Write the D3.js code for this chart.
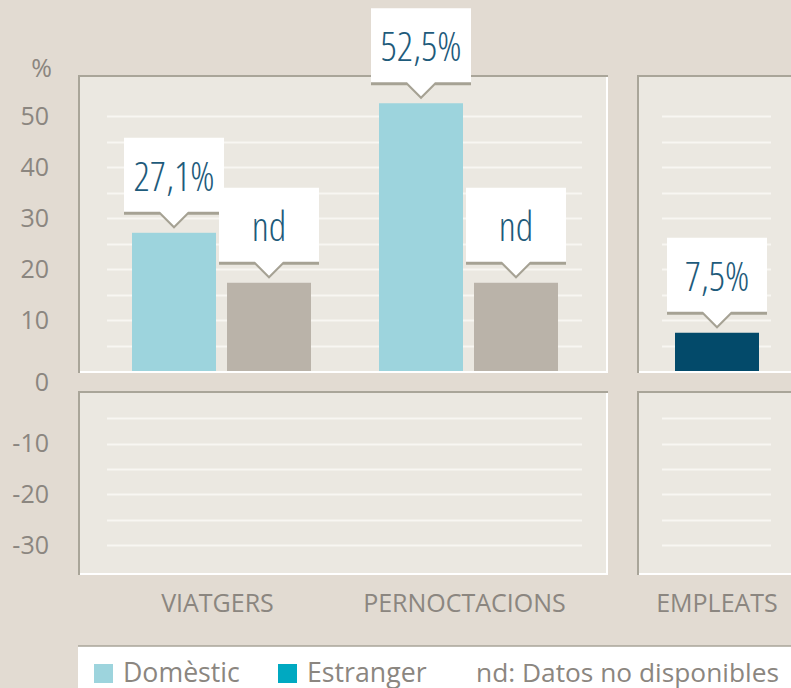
<!DOCTYPE html>
<html>
<head>
<meta charset="utf-8">
<script src="https://cdn.jsdelivr.net/npm/d3@7/dist/d3.min.js"></script>
<style>
  html, body { margin: 0; padding: 0; background: #e2dbd2; }
  svg { display: block; }
  text { font-family: "Open Sans", "Noto Sans", sans-serif; }
</style>
</head>
<body>
<svg id="chart" width="791" height="688"></svg>
<script>
// ---- data ----
const categories = ["VIATGERS", "PERNOCTACIONS"];
const seriesNames = ["Domèstic", "Estranger"];
const domesticValues = [27.1, 52.5];
const estrangerValues = [null, null];      // nd: no data
const ndPlaceholder = 17.3;                 // height of the grey "nd" bar
const empleatsCategory = ["EMPLEATS"];
const empleatsValues = [7.5];
const upperTicks = [50, 40, 30, 20, 10];
const lowerTicks = [-10, -20, -30];
const upperGrid = [5, 10, 15, 20, 25, 30, 35, 40, 45, 50];
const lowerGrid = [-5, -10, -15, -20, -25, -30];
const legendItems = ["Domèstic", "Estranger"];
const legendNote = "nd: Datos no disponibles";

// ---- styles ----
const C = {
  bg: "#e2dbd2", panel: "#ebe8e1", border: "#a9a599", grid: "#f8f6f2",
  domestic: "#9dd4dd", estranger: "#00a9c1", nd: "#bab3a9", empleats: "#034a6a",
  axisText: "#8b8680", callText: "#1e5b7b", shadow: "#a6a294"
};

const svg = d3.select("#chart");
const locale = d3.formatLocale({ decimal: ",", thousands: ".", grouping: [3], currency: ["", "€"], minus: "-" });
const fmt = v => locale.format(".1f")(v) + "%";
const tickFmt = locale.format("d");

// scales
const yU = d3.scaleLinear().domain([0, 50]).range([371, 116]);
const yL = d3.scaleLinear().domain([0, -30]).range([393, 545]);
const x1 = d3.scaleBand().domain(categories).range([98, 592]);
const x2 = d3.scaleBand().domain(empleatsCategory).range([662, 772]);
const xs = d3.scaleBand().domain(seriesNames).range([-89.5, 89.5]).paddingInner(11 / 95);

// panels
const panels = [
  { x0: 78, x1: 608, y0: 75, y1: 373, g0: 107, g1: 582, grid: upperGrid, y: yU },
  { x0: 637, x1: 800, y0: 75, y1: 373, g0: 662, g1: 771, grid: upperGrid, y: yU },
  { x0: 78, x1: 608, y0: 391, y1: 575, g0: 107, g1: 582, grid: lowerGrid, y: yL },
  { x0: 637, x1: 800, y0: 391, y1: 575, g0: 662, g1: 771, grid: lowerGrid, y: yL }
];
panels.forEach(p => {
  const g = svg.append("g");
  g.append("rect").attr("x", p.x0).attr("y", p.y0).attr("width", p.x1 - p.x0).attr("height", p.y1 - p.y0).attr("fill", C.panel);
  g.append("line").attr("x1", p.x0).attr("x2", p.x1).attr("y1", p.y0 + 1).attr("y2", p.y0 + 1).attr("stroke", C.border).attr("stroke-width", 2);
  g.append("line").attr("x1", p.x0 + 1).attr("x2", p.x0 + 1).attr("y1", p.y0).attr("y2", p.y1).attr("stroke", C.border).attr("stroke-width", 2);
  g.append("line").attr("x1", p.x0 + 2).attr("x2", p.x1).attr("y1", p.y1 - 1).attr("y2", p.y1 - 1).attr("stroke", "#ffffff").attr("stroke-width", 2);
  g.append("line").attr("x1", p.x1 - 1).attr("x2", p.x1 - 1).attr("y1", p.y0 + 2).attr("y2", p.y1).attr("stroke", "#ffffff").attr("stroke-width", 2);
  g.selectAll("line.grid").data(p.grid).join("line").attr("class", "grid")
    .attr("x1", p.g0).attr("x2", p.g1)
    .attr("y1", d => Math.round(p.y(d)) + 0.5).attr("y2", d => Math.round(p.y(d)) + 0.5)
    .attr("stroke", C.grid).attr("stroke-width", 2);
});

// y axes
const axU = svg.append("g").attr("transform", "translate(49,0)")
  .call(d3.axisLeft(yU).tickValues(upperTicks).tickFormat(tickFmt).tickSize(0).tickPadding(0));
const axL = svg.append("g").attr("transform", "translate(49,0)")
  .call(d3.axisLeft(yL).tickValues(lowerTicks).tickFormat(tickFmt).tickSize(0).tickPadding(0));
[axU, axL].forEach(a => {
  a.select(".domain").remove();
  a.selectAll("text").attr("font-size", 25).attr("fill", C.axisText)
    .style("font-family", '"Open Sans", sans-serif');
});
svg.append("text").attr("x", 49).attr("y", (yU(0) + yL(0)) / 2 + 1).attr("dy", "0.32em")
  .attr("text-anchor", "end").attr("font-size", 25).attr("fill", C.axisText).text("0");
svg.append("text").attr("x", 52).attr("y", 77).attr("text-anchor", "end")
  .attr("font-size", 25).attr("fill", C.axisText).text("%");

// bars
const bars = [];
categories.forEach((c, i) => {
  const cx = x1(c) + x1.bandwidth() / 2;
  bars.push({ x: cx + xs("Domèstic"), w: xs.bandwidth(), v: domesticValues[i], color: C.domestic, label: fmt(domesticValues[i]) });
  const ev = estrangerValues[i];
  bars.push({ x: cx + xs("Estranger"), w: xs.bandwidth(), v: ev == null ? ndPlaceholder : ev,
    color: ev == null ? C.nd : C.estranger, label: ev == null ? "nd" : fmt(ev) });
});
empleatsCategory.forEach((c, i) => {
  const cx = x2(c) + x2.bandwidth() / 2;
  bars.push({ x: cx - xs.bandwidth() / 2, w: xs.bandwidth(), v: empleatsValues[i], color: C.empleats, label: fmt(empleatsValues[i]) });
});

svg.append("g").selectAll("rect").data(bars).join("rect")
  .attr("x", d => d.x).attr("width", d => d.w)
  .attr("y", d => yU(d.v)).attr("height", d => yU(0) - yU(d.v))
  .attr("fill", d => d.color);

// callouts
const bubble = (cx, bot) => {
  const top = bot - 74;
  return `M${cx - 50},${top}H${cx + 50}V${bot}H${cx + 14}L${cx},${bot + 14}L${cx - 14},${bot}H${cx - 50}Z`;
};
const cg = svg.append("g").selectAll("g").data(bars).join("g");
cg.append("path").attr("d", d => bubble(d.x + d.w / 2, yU(d.v) - 21)).attr("transform", "translate(0,3)").attr("fill", C.shadow);
cg.append("path").attr("d", d => bubble(d.x + d.w / 2, yU(d.v) - 21)).attr("fill", "#ffffff");
cg.append("text").attr("x", d => d.x + d.w / 2).attr("y", d => yU(d.v) - 21 - 74 + 53)
  .attr("text-anchor", "middle").attr("font-size", 40).attr("font-weight", 300)
  .style("font-stretch", "condensed").attr("fill", C.callText).text(d => d.label);

// category labels
const catData = categories.map(c => ({ c, x: x1(c) + x1.bandwidth() / 2 - 4 }))
  .concat(empleatsCategory.map(c => ({ c, x: x2(c) + x2.bandwidth() / 2 })));
svg.append("g").selectAll("text").data(catData).join("text")
  .attr("x", d => d.x).attr("y", 612).attr("text-anchor", "middle")
  .attr("font-size", 25).attr("fill", C.axisText).text(d => d.c);

// legend
const lg = svg.append("g");
lg.append("rect").attr("x", 78).attr("y", 646).attr("width", 720).attr("height", 50).attr("fill", "#ffffff");
lg.append("line").attr("x1", 78).attr("x2", 791).attr("y1", 646).attr("y2", 646).attr("stroke", C.border).attr("stroke-width", 1.5);
const legX = [94, 278];
const legC = [C.domestic, C.estranger];
legendItems.forEach((t, i) => {
  lg.append("rect").attr("x", legX[i]).attr("y", 664).attr("width", 19).attr("height", 19).attr("fill", legC[i]);
  lg.append("text").attr("x", legX[i] + 29).attr("y", 682).attr("font-size", 26.7).attr("fill", C.axisText).text(t);
});
lg.append("text").attr("x", 476).attr("y", 682).attr("font-size", 26.3).attr("fill", C.axisText).text(legendNote);
</script>
</body>
</html>
